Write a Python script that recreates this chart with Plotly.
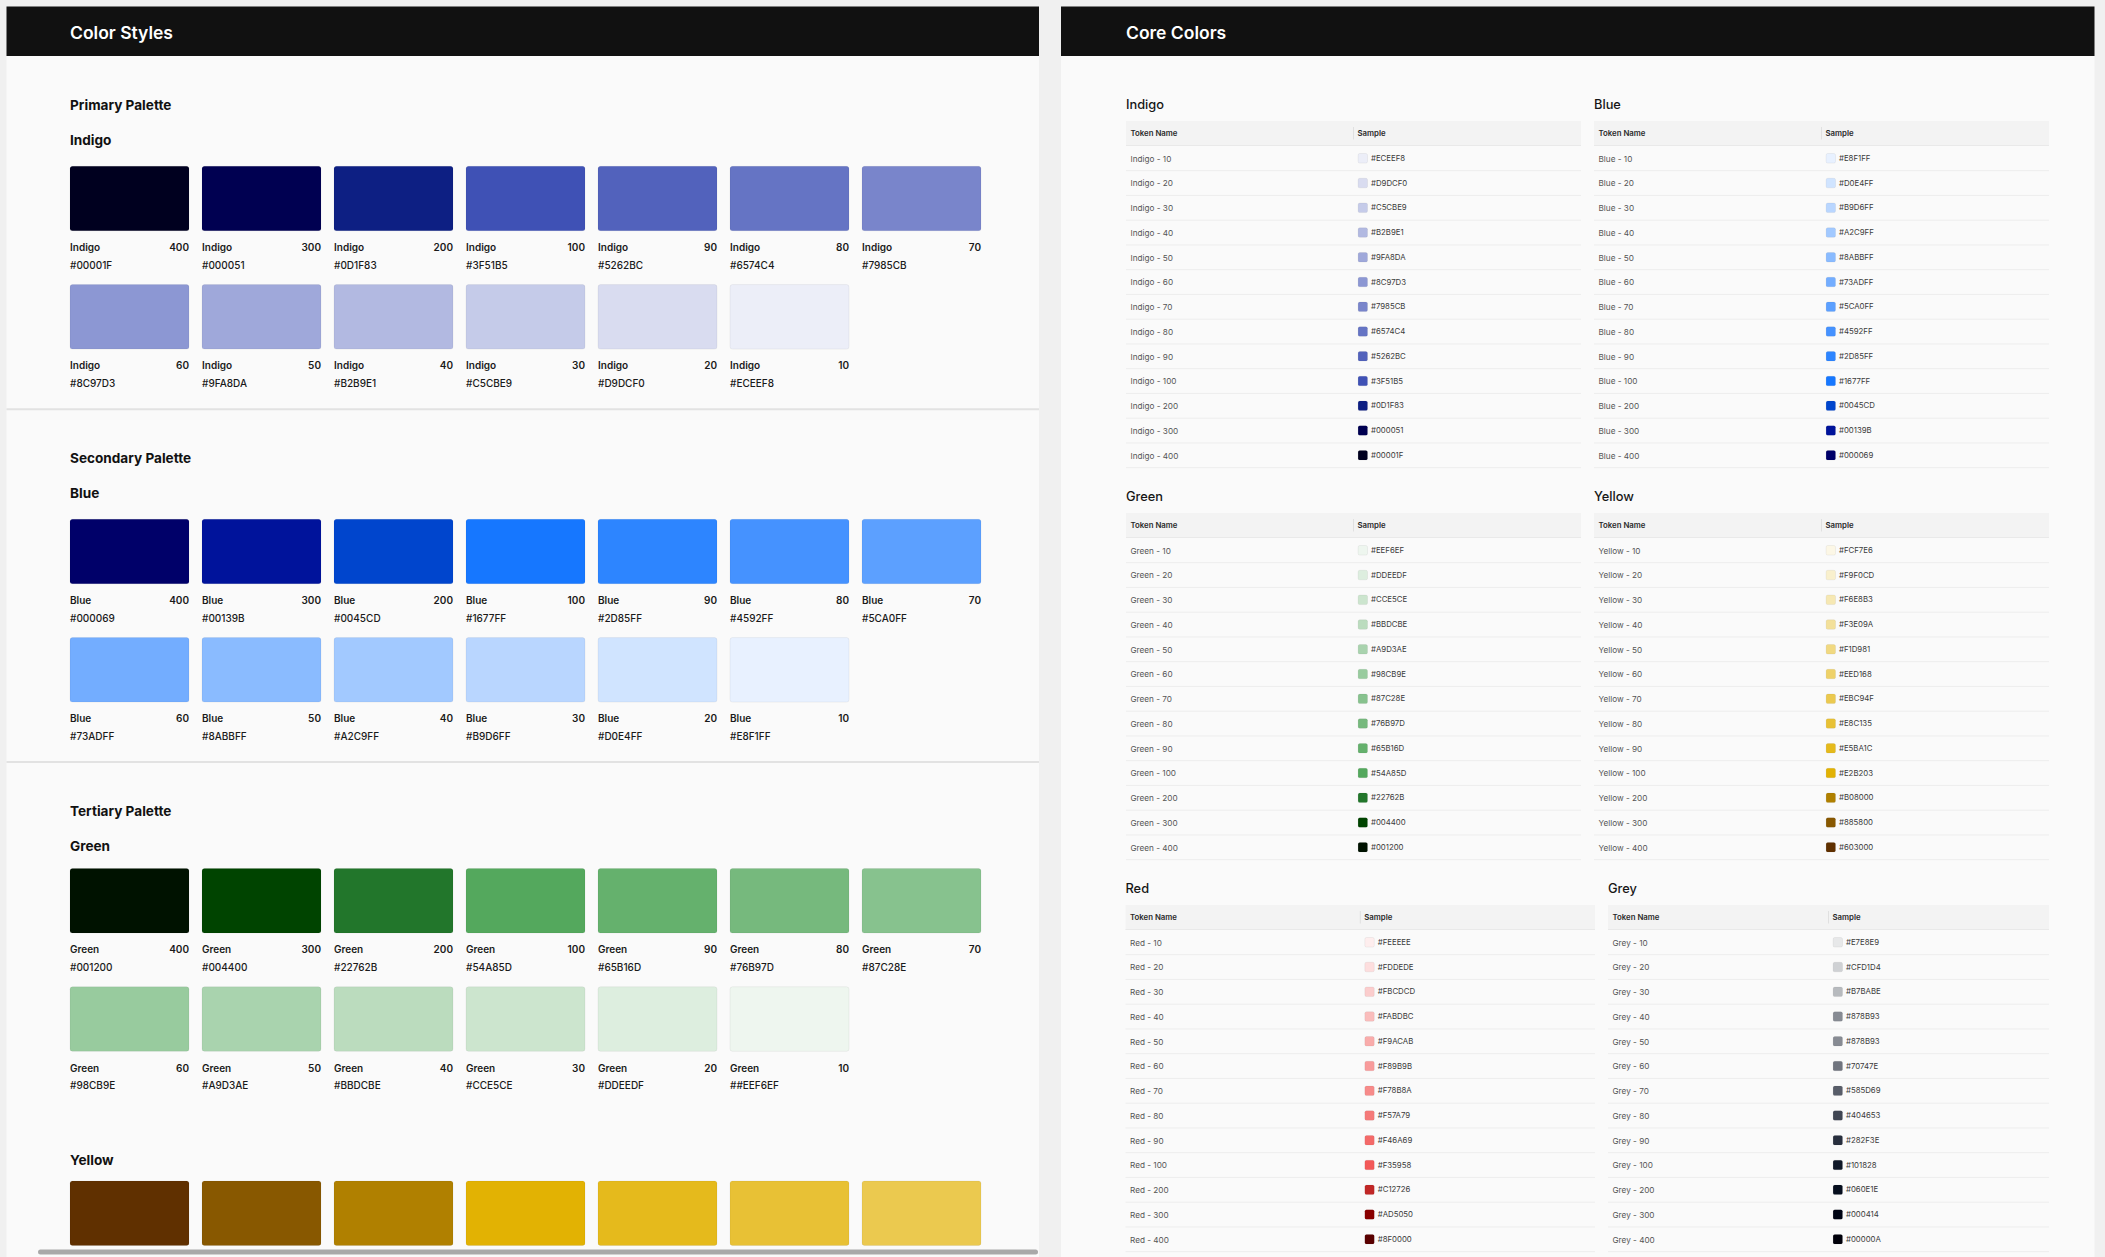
import plotly.graph_objects as go

W, H = 2105, 1257

# colour tokens, listed from step 10 up to step 400
steps = [10, 20, 30, 40, 50, 60, 70, 80, 90, 100, 200, 300, 400]

indigo_hex = ["#ECEEF8", "#D9DCF0", "#C5CBE9", "#B2B9E1", "#9FA8DA", "#8C97D3", "#7985CB",
              "#6574C4", "#5262BC", "#3F51B5", "#0D1F83", "#000051", "#00001F"]
blue_hex = ["#E8F1FF", "#D0E4FF", "#B9D6FF", "#A2C9FF", "#8ABBFF", "#73ADFF", "#5CA0FF",
            "#4592FF", "#2D85FF", "#1677FF", "#0045CD", "#00139B", "#000069"]
green_hex = ["#EEF6EF", "#DDEEDF", "#CCE5CE", "#BBDCBE", "#A9D3AE", "#98CB9E", "#87C28E",
             "#76B97D", "#65B16D", "#54A85D", "#22762B", "#004400", "#001200"]
yellow_hex = ["#FCF7E6", "#F9F0CD", "#F6E8B3", "#F3E09A", "#F1D981", "#EED168", "#EBC94F",
              "#E8C135", "#E5BA1C", "#E2B203", "#B08000", "#885800", "#603000"]
red_hex = ["#FEEEEE", "#FDDEDE", "#FBCDCD", "#FABDBC", "#F9ACAB", "#F89B9B", "#F78B8A",
           "#F57A79", "#F46A69", "#F35958", "#C12726", "#AD5050", "#8F0000"]
grey_hex = ["#E7E8E9", "#CFD1D4", "#B7BABE", "#878B93", "#878B93", "#70747E", "#585D69",
            "#404653", "#282F3E", "#101828", "#060E1E", "#000414", "#00000A"]

# swatches that are painted darker than their label says
red_sample = red_hex[:11] + ["#8A0000", "#5A0000"]

# left panel: section title, palette name, colours
left_palettes = [
    ("Primary Palette", "Indigo", indigo_hex),
    ("Secondary Palette", "Blue", blue_hex),
    ("Tertiary Palette", "Green", green_hex),
    (None, "Yellow", yellow_hex),
]
left_label_fix = {("Green", 10): "##EEF6EF"}

# right panel: pairs of tables
core_tables = [
    [("Indigo", indigo_hex, indigo_hex), ("Blue", blue_hex, blue_hex)],
    [("Green", green_hex, green_hex), ("Yellow", yellow_hex, yellow_hex)],
    [("Red", red_hex, red_sample), ("Grey", grey_hex, grey_hex)],
]

FONT = "Inter"
PAGE_BG = "#F0F0F0"
PANEL_BG = "#FAFAFA"
DARK = "#111111"
DY = 1.2  # text baseline nudge

fig = go.Figure()
shapes = []


def rrect(x0, y0, x1, y1, r):
    return (f"M{x0+r},{y0} L{x1-r},{y0} Q{x1},{y0} {x1},{y0+r} L{x1},{y1-r} "
            f"Q{x1},{y1} {x1-r},{y1} L{x0+r},{y1} Q{x0},{y1} {x0},{y1-r} "
            f"L{x0},{y0+r} Q{x0},{y0} {x0+r},{y0} Z")


def box(x0, y0, x1, y1, fill, r=0, line=None):
    d = dict(type="path" if r else "rect", xref="x", yref="y", layer="below",
             fillcolor=fill, line=dict(width=0 if line is None else 1,
                                       color=line or fill))
    if r:
        d["path"] = rrect(x0, y0, x1, y1, r)
    else:
        d.update(x0=x0, y0=y0, x1=x1, y1=y1)
    shapes.append(d)


def hline(x0, x1, y, color, width=1):
    shapes.append(dict(type="line", xref="x", yref="y", layer="below",
                       x0=x0, x1=x1, y0=y, y1=y, line=dict(color=color, width=width)))


def add_text(xs, ys, texts, size, color, weight=400, pos="middle right"):
    fig.add_trace(go.Scatter(
        x=xs, y=[y + DY for y in ys], text=texts, mode="text", textposition=pos,
        textfont=dict(family=FONT, size=size, color=color, weight=weight),
        hoverinfo="skip", showlegend=False, cliponaxis=False))


# panels
LP = (6.5, 1039)
RP = (1061, 2094.5)
for x0, x1 in (LP, RP):
    box(x0, 56, x1, H + 5, PANEL_BG)
    box(x0, 6.5, x1, 56, DARK)
add_text([70, 1126], [33, 33], ["Color Styles", "Core Colors"], 17.5, "#FFFFFF", 600)

# ---------- left panel: swatch grid ----------
sec_title_y = [105, 458, 811, None]
name_y = [140, 493.7, 846.5, 1160]
swatch_top = [166.3, 519.3, 868.5, 1181]
SW, SH, PITCH, ROW2 = 119, 64.5, 132, 118.3

t_x, t_y, t_s = [], [], []
n_x, n_y, n_s = [], [], []
v_x, v_y, v_s = [], [], []
h_x, h_y, h_s = [], [], []
for k, (sec, name, hexes) in enumerate(left_palettes):
    if sec:
        t_x.append(70); t_y.append(sec_title_y[k]); t_s.append(sec)
    t_x.append(70); t_y.append(name_y[k]); t_s.append(name)
    order = list(range(len(steps)))[::-1]  # 400 first
    for i, idx in enumerate(order):
        row, col = divmod(i, 7)
        x0 = 70 + PITCH * col
        y0 = swatch_top[k] + ROW2 * row
        if y0 > H:
            continue
        box(x0, y0, x0 + SW, y0 + SH, hexes[idx], r=2.5, line="rgba(0,0,0,0.05)")
        if y0 + 81 < H:
            n_x.append(x0); n_y.append(y0 + 81); n_s.append(name)
            v_x.append(x0 + SW); v_y.append(y0 + 81); v_s.append(str(steps[idx]))
            h_x.append(x0); h_y.append(y0 + 98.5)
            h_s.append(left_label_fix.get((name, steps[idx]), hexes[idx]))

add_text(t_x, t_y, t_s, 13.6, DARK, 700)
add_text(n_x, n_y, n_s, 10, "#1A1A1A", 600)
add_text(v_x, v_y, v_s, 10, "#1A1A1A", 600, pos="middle left")
add_text(h_x, h_y, h_s, 10, "#1A1A1A", 500)

for y in (409.3, 762):
    hline(LP[0], LP[1], y, "#E2E2E2", 2)

# scrollbar
box(38, 1249.5, 1038, 1254.5, "#A9A9A9", r=2.5)

# ---------- right panel: token tables ----------
table_x = [[(1126, 1581), (1594, 2049)],
           [(1126, 1581), (1594, 2049)],
           [(1125.5, 1595), (1608, 2049)]]
SEC = 392
ROW = 24.75

tt_x, tt_y, tt_s = [], [], []
hd_x, hd_y, hd_s = [], [], []
tk_x, tk_y, tk_s = [], [], []
hx_x, hx_y, hx_s = [], [], []
for k, pair in enumerate(core_tables):
    for c, (name, hexes, sample) in enumerate(pair):
        x0, x1 = table_x[k][c]
        mid = (x0 + x1) / 2
        top = 121 + SEC * k
        tt_x.append(x0); tt_y.append(104.5 + SEC * k); tt_s.append(name)
        box(x0, top, x1, top + 24.5, "#F3F3F3")
        shapes.append(dict(type="line", xref="x", yref="y", layer="below",
                           x0=mid, x1=mid, y0=top + 6, y1=top + 18.5,
                           line=dict(color="#E0E0E0", width=1)))
        hline(x0, x1, top + 24.5, "#E9E9E9")
        hd_x += [x0 + 4.5, mid + 4]
        hd_y += [top + 12.3, top + 12.3]
        hd_s += ["Token Name", "Sample"]
        for i, st in enumerate(steps):
            cy = top + 37.3 + ROW * i
            hline(x0, x1, cy + 12.4, "#EDEDED")
            tk_x.append(x0 + 4.5); tk_y.append(cy); tk_s.append(f"{name} - {st}")
            box(mid + 4.6, cy - 4.8, mid + 14, cy + 4.8, sample[i], r=1.6,
                line="rgba(0,0,0,0.05)")
            hx_x.append(mid + 17.5); hx_y.append(cy - 0.6); hx_s.append(hexes[i])

add_text(tt_x, tt_y, tt_s, 12.8, "#161616", 500)
add_text(hd_x, hd_y, hd_s, 7.8, "#2A2A2A", 600)
add_text(tk_x, tk_y, tk_s, 8.2, "#555555", 400)
add_text(hx_x, hx_y, hx_s, 7.8, "#3A3A3A", 400)

fig.update_layout(
    width=W, height=H,
    margin=dict(l=0, r=0, t=0, b=0),
    paper_bgcolor=PAGE_BG, plot_bgcolor=PAGE_BG,
    xaxis=dict(range=[0, W], visible=False, fixedrange=True),
    yaxis=dict(range=[H, 0], visible=False, fixedrange=True),
    shapes=shapes,
)

fig.write_html("out.html", config={"displayModeBar": False},
               post_script="document.body.style.margin='0';"
                           "document.body.style.overflow='hidden';"
                           f"document.body.style.background='{PAGE_BG}';")
